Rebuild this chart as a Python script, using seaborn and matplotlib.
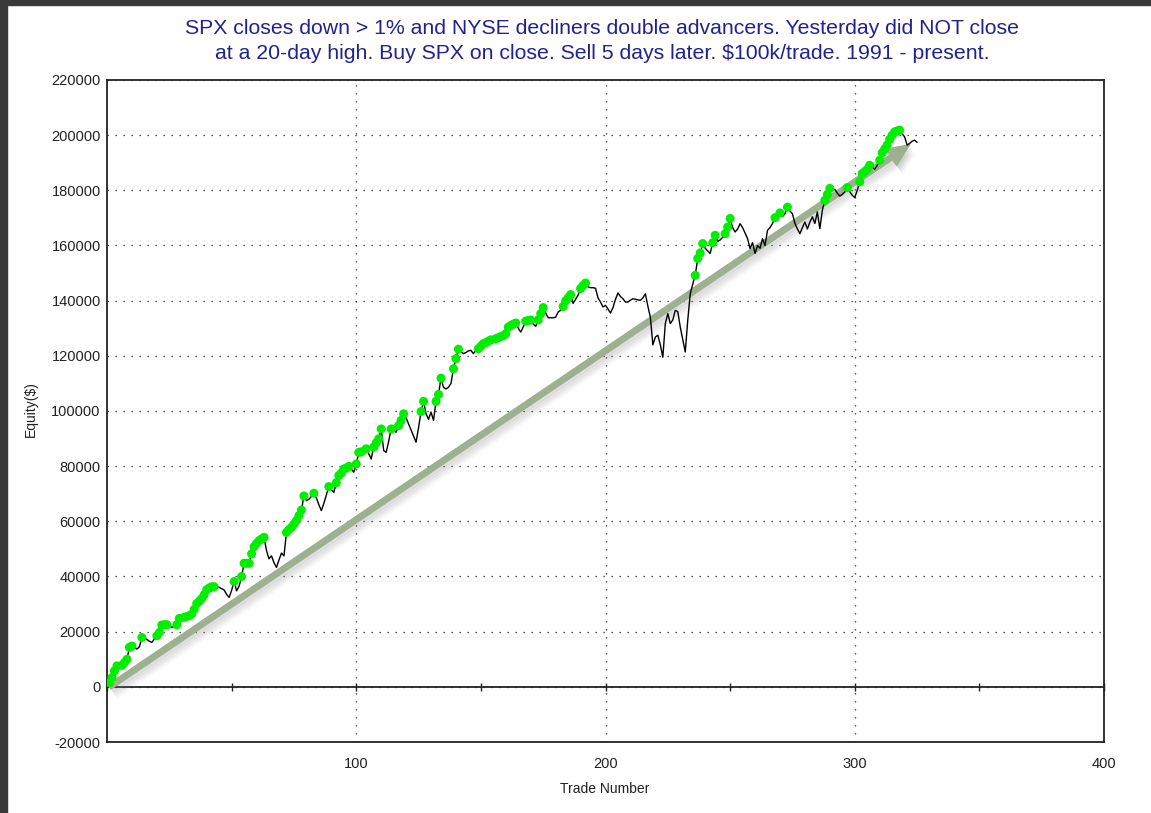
import numpy as np
import pandas as pd
import seaborn as sns
import matplotlib.pyplot as plt
import matplotlib.patheffects as pe
from matplotlib.patches import Rectangle
from matplotlib.ticker import MultipleLocator

###############################
######### data ################
###############################
# equity after each trade, in $1000
equity_k = [
    1.5, 3.4, 5.8, 7.6, 7.2, 7.8, 8.8, 10.0, 14.3, 14.8,
    14.3, 13.7, 14.5, 17.9, 17.7, 17.2, 16.5, 16.1, 17.3, 18.5,
    19.7, 22.4, 22.5, 22.5, 22.3, 21.5, 22.0, 22.5, 24.8, 24.5,
    25.2, 25.5, 25.8, 26.4, 28.1, 30.2, 31.0, 32.0, 33.4, 35.2,
    35.8, 36.3, 36.3, 36.1, 36.1, 35.6, 35.1, 33.5, 32.4, 35.0,
    38.2, 34.8, 36.5, 40.0, 44.8, 44.8, 44.8, 48.2, 50.8, 52.0,
    53.0, 53.6, 54.2, 49.4, 46.4, 47.5, 45.0, 43.3, 46.0, 48.5,
    47.5, 56.0, 57.0, 57.8, 59.0, 60.3, 62.1, 64.1, 69.2, 67.5,
    68.0, 69.0, 70.2, 68.5, 66.0, 63.9, 66.5, 69.5, 72.6, 71.5,
    70.5, 74.0, 76.6, 77.5, 79.0, 79.3, 79.9, 79.0, 77.8, 80.8,
    85.0, 85.2, 84.5, 86.3, 84.5, 82.6, 86.9, 88.5, 89.9, 93.5,
    85.7, 85.0, 89.0, 93.5, 93.0, 92.3, 94.7, 96.6, 99.0, 97.5,
    95.3, 93.0, 91.0, 88.7, 94.0, 99.8, 103.5, 99.0, 97.0, 99.6,
    96.6, 103.5, 106.0, 111.9, 108.6, 108.0, 108.6, 110.0, 115.3, 119.0,
    122.4, 121.5, 120.8, 121.2, 121.8, 122.0, 120.8, 122.0, 122.6, 123.5,
    124.4, 124.8, 125.3, 125.8, 125.0, 126.2, 126.6, 127.0, 127.3, 128.0,
    130.4, 131.0, 131.5, 131.9, 130.0, 128.6, 130.5, 132.6, 132.8, 133.0,
    131.5, 130.7, 133.0, 135.3, 137.5, 135.5, 133.8, 133.8, 133.8, 134.0,
    135.9, 136.5, 137.9, 139.9, 141.0, 142.2, 139.0, 140.5, 142.0, 144.4,
    145.5, 146.4, 145.0, 144.7, 144.7, 144.5, 141.0, 139.5, 137.7, 138.3,
    137.0, 135.5, 137.5, 140.5, 142.8, 141.5, 140.7, 139.5, 139.5, 140.2,
    140.7, 140.5, 140.3, 140.1, 141.0, 142.5, 138.0, 134.0, 124.0, 126.8,
    127.5, 124.0, 119.5, 131.7, 135.3, 131.7, 133.0, 136.5, 136.0, 130.4,
    126.0, 121.4, 132.9, 142.5, 146.0, 149.2, 155.3, 157.3, 160.7, 159.0,
    158.0, 157.1, 161.0, 163.7, 161.5, 162.0, 163.0, 164.3, 166.7, 169.8,
    166.5, 164.9, 166.0, 167.9, 166.5, 164.5, 162.5, 158.9, 161.0, 157.1,
    160.0, 159.0, 162.5, 160.0, 165.5, 166.5, 168.0, 170.1, 169.5, 171.8,
    170.5, 171.5, 173.9, 172.5, 171.5, 168.0, 166.0, 164.3, 166.5, 168.5,
    166.0, 168.5, 170.4, 168.0, 172.2, 166.1, 172.8, 176.4, 178.5, 180.7,
    180.2, 180.3, 179.0, 177.9, 178.5, 179.4, 181.0, 179.5, 178.2, 177.4,
    180.0, 183.1, 186.1, 186.8, 187.6, 189.1, 188.5, 187.6, 189.0, 190.9,
    193.6, 195.0, 196.4, 198.5, 200.0, 201.2, 201.5, 201.8, 200.5, 199.4,
    196.4, 197.0, 197.8, 198.2, 197.4,
]

title_lines = [
    'SPX closes down > 1% and NYSE decliners double advancers. Yesterday did NOT close',
    'at a 20-day high. Buy SPX on close. Sell 5 days later. $100k/trade. 1991 - present.',
]
y_ticks = np.arange(-20000, 220001, 20000)
x_ticks = [100, 200, 300, 400]
x_range = [0, 400]
y_range = [-20000, 220000]

# trend arrow (trade number, equity)
arrow_start = (1, 0)
arrow_end = (322, 196500)

df = pd.DataFrame({'Trade Number': np.arange(1, len(equity_k) + 1),
                   'Equity': np.array(equity_k) * 1000})
# green dots mark new equity highs
df['new_high'] = df['Equity'] >= df['Equity'].cummax()

##############################
######## plot ################
##############################
sns.set_style('white')
plt.rcParams['font.family'] = ['Liberation Sans', 'DejaVu Sans']

W, H = 1151, 813
fig = plt.figure(figsize=(W / 100, H / 100), dpi=100)
ax = fig.add_axes([107 / W, 1 - 742 / H, (1104 - 107) / W, (742 - 80) / H])

## arrow first so the curve sits on top; stacked faint shadows fake a blur
shadow = [pe.SimplePatchShadow(offset=(o, -1.5 * o), shadow_rgbFace='#808080', alpha=a)
          for o, a in [(4.5, 0.06), (3.5, 0.09), (2.5, 0.12), (1.5, 0.15)]]
ax.annotate('', xy=arrow_end, xytext=arrow_start, zorder=2,
            arrowprops=dict(arrowstyle='simple,head_length=0.8,head_width=0.7,tail_width=0.2',
                            mutation_scale=20, color='#9DB08F', shrinkA=0, shrinkB=0,
                            path_effects=shadow + [pe.Normal()]))

sns.lineplot(data=df, x='Trade Number', y='Equity', color='black', lw=1.0, ax=ax, zorder=3)
sns.scatterplot(data=df[df['new_high']], x='Trade Number', y='Equity', color='#00EE00',
                s=42, edgecolor='none', ax=ax, zorder=4)

ax.set_xlim(x_range)
ax.set_ylim(y_range)
ax.set_yticks(y_ticks)
ax.set_yticklabels([str(v) for v in y_ticks])
ax.yaxis.set_minor_locator(MultipleLocator(10000))
ax.set_xticks(x_ticks)
ax.set_xticklabels([str(v) for v in x_ticks])

ax.grid(True, which='major', color='#222222', ls=(0, (1, 5.4)), lw=0.9)
ax.tick_params(axis='y', which='both', direction='inout', length=5, width=1.0,
               labelsize=10.5, pad=2, colors='#222222')
ax.tick_params(axis='x', length=0, labelsize=10.5, pad=11, colors='#222222')
for sp in ax.spines.values():
    sp.set_visible(True)
    sp.set_color('#222222')
    sp.set_linewidth(1.3)

## zero line with its own ticks
zero_pos = (0 - y_range[0]) / (y_range[1] - y_range[0])
sec = ax.secondary_xaxis(zero_pos)
sec.set_xticks(np.arange(0, 401, 50))
sec.tick_params(direction='inout', length=6, width=1.0, labelbottom=False, colors='#222222')
sec.spines['bottom'].set_linewidth(1.3)
sec.spines['bottom'].set_color('#222222')

ax.set_xlabel('Trade Number', fontsize=10, color='#222222')
ax.set_ylabel('Equity($)', fontsize=10, color='#222222')
ax.xaxis.set_label_coords(0.499, -0.06)
ax.yaxis.set_label_coords(-0.069, 0.503)

fig.text(0.523, 1 - 41 / H, '\n'.join(title_lines), ha='center', va='center',
         fontsize=15.3, color='#22228F', linespacing=1.38)

## dark window edge on the left and top
fig.patches.append(Rectangle((0, 0), 7 / W, 1, transform=fig.transFigure, color='#3a3a3a', zorder=0))
fig.patches.append(Rectangle((0, 1 - 5 / H), 1, 5 / H, transform=fig.transFigure, color='#3a3a3a', zorder=0))

fig.savefig('out.png', dpi=100)
